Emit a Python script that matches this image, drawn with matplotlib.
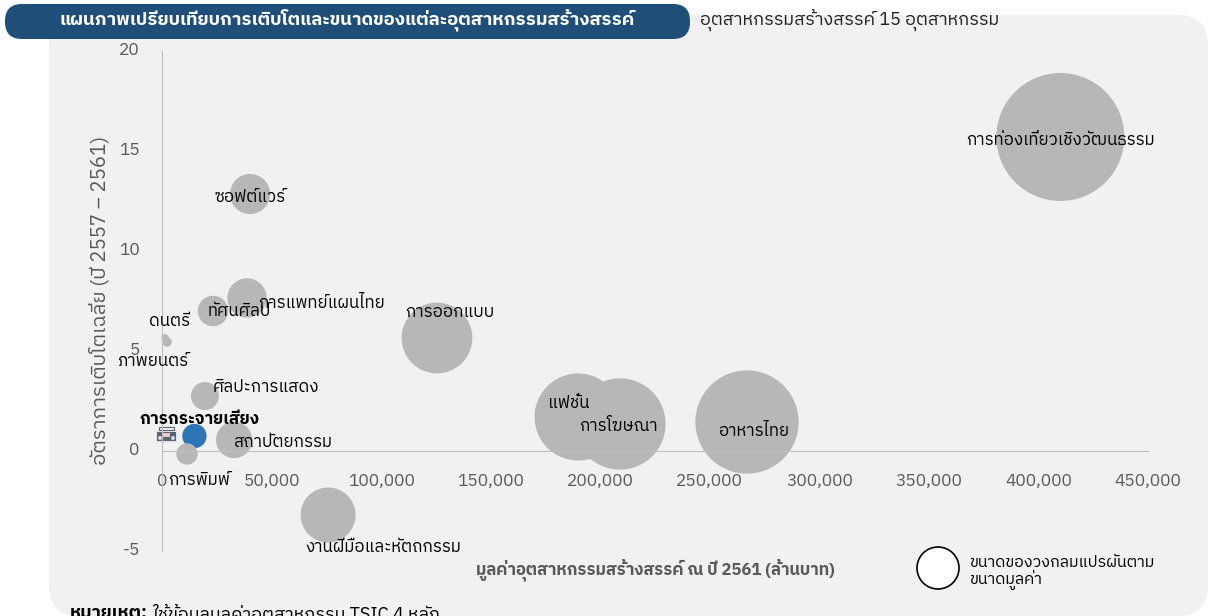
import matplotlib
matplotlib.use('Agg')
import matplotlib.pyplot as plt
from matplotlib.patches import FancyBboxPatch, Circle, Rectangle
from matplotlib.transforms import ScaledTranslation

# data
industries = ['การท่องเที่ยวเชิงวัฒนธรรม', 'ซอฟต์แวร์', 'การแพทย์แผนไทย', 'ทัศนศิลป์', 'ดนตรี',
              'ภาพยนตร์', 'ศิลปะการแสดง', 'การกระจายเสียง', 'สถาปัตยกรรม', 'การพิมพ์',
              'การออกแบบ', 'แฟชั่น', 'การโฆษณา', 'อาหารไทย', 'งานฝีมือและหัตถกรรม']
value_2561 = [410000, 40200, 38800, 23300, 1400, 2300, 19600, 14800, 32900, 11400,
              125500, 189900, 209000, 267000, 75800]
growth = [15.7, 12.85, 7.65, 7.0, 5.65, 5.45, 2.75, 0.75, 0.55, -0.15,
          5.65, 1.7, 1.35, 1.45, -3.2]
x_ticks = [0, 50000, 100000, 150000, 200000, 250000, 300000, 350000, 400000, 450000]
y_ticks = [-5, 0, 5, 10, 15, 20]

plt.rcParams['font.family'] = ['IBM Plex Sans Thai', 'DejaVu Sans']
plt.rcParams['axes.unicode_minus'] = False

W, H = 1208, 616
fig = plt.figure(figsize=(W / 100, H / 100), dpi=100)

# background layer in pixel coordinates
bg = fig.add_axes([0, 0, 1, 1], zorder=0)
bg.set_xlim(0, W)
bg.set_ylim(H, 0)
bg.axis('off')
bg.add_patch(FancyBboxPatch((79, 45), 1099, 541, boxstyle='round,pad=30,rounding_size=30',
                            fc='#F1F1F1', ec='none'))
bg.add_patch(FancyBboxPatch((22, 21), 651, 1, boxstyle='round,pad=17,rounding_size=17',
                            fc='#1F4E79', ec='none'))
bg.text(347, 20, 'แผนภาพเปรียบเทียบการเติบโตและขนาดของแต่ละอุตสาหกรรมสร้างสรรค์', color='white',
        fontsize=13.3, fontweight='bold', ha='center', va='center')
bg.text(700, 20, 'อุตสาหกรรมสร้างสรรค์ 15 อุตสาหกรรม', color='#222222', fontsize=13, va='center')
note_head = bg.text(70, 615, 'หมายเหตุ:', color='black', fontsize=13, fontweight='bold', va='center')
fig.canvas.draw()
note_end = note_head.get_window_extent().x1
bg.text(note_end + 4, 615, 'ใช้ข้อมูลมูลค่าอุตสาหกรรม TSIC 4 หลัก', color='black', fontsize=13, va='center')

# main chart
ax = fig.add_axes([162 / W, 1 - 551 / H, (1148 - 162) / W, 500 / H], zorder=1)
ax.patch.set_alpha(0)
ax.set_xlim(0, 450000)
ax.set_ylim(-5, 20)
for side in ['top', 'right']:
    ax.spines[side].set_visible(False)
ax.spines['left'].set_position(('data', 0))
ax.spines['bottom'].set_position(('data', 0))
ax.spines['left'].set_color('#BFBFBF')
ax.spines['bottom'].set_color('#BFBFBF')
ax.set_xticks(x_ticks)
ax.set_xticklabels([f'{v:,}' for v in x_ticks])
ax.set_yticks(y_ticks)
ax.tick_params(axis='x', length=0, pad=16, labelsize=12.5, labelcolor='#595959')
ax.tick_params(axis='y', length=0, pad=16, labelsize=12.5, labelcolor='#595959')
for lab in ax.get_yticklabels():
    lab.set_transform(lab.get_transform() + ScaledTranslation(0, 2 / 72, fig.dpi_scale_trans))

# bubble area follows the value
sizes = [v * 0.0207 for v in value_2561]
colors = ['#2E75B6' if n == 'การกระจายเสียง' else '#B7B7B7' for n in industries]
ax.scatter(value_2561, growth, s=sizes, c=colors, linewidths=0, zorder=2, clip_on=False)

# label offsets from bubble centre, in pixels
offsets = [(0, -3), (0, -3), (75, -5), (26, 0), (4, 17), (-14, -19), (61, 9), (5, 17),
           (49, -2), (12, -26), (13, 26), (-9, 14), (-1, -2), (7, -9), (55, -32)]
for name, vx, vy, (dx, dy) in zip(industries, value_2561, growth, offsets):
    bold = name == 'การกระจายเสียง'
    ax.annotate(name, (vx, vy), xytext=(dx * 0.72, dy * 0.72), textcoords='offset points',
                ha='center', va='center', fontsize=12.2, color='black', zorder=3,
                fontweight='bold' if bold else 'normal')

bg.text(99, 300, 'อัตราการเติบโตเฉลี่ย (ปี 2557 – 2561)', rotation=90, color='#595959',
        fontsize=14.7, ha='center', va='center')
bg.text(655, 570, 'มูลค่าอุตสาหกรรมสร้างสรรค์ ณ ปี 2561 (ล้านบาท)', color='#595959',
        fontsize=12, fontweight='bold', ha='center', va='center')

# size legend
bg.add_patch(Circle((938, 568), 21, fc='white', ec='black', lw=1.2))
bg.text(969, 562, 'ขนาดของวงกลมแปรผันตาม', fontsize=11.5, va='center', color='black')
bg.text(969, 581, 'ขนาดมูลค่า', fontsize=11.5, va='center', color='black')

# radio icon
bg.add_patch(Rectangle((156, 430), 21, 13, fc='#E3E5EC', ec='none'))
bg.add_patch(Rectangle((157, 432), 19, 9, fc='#5A6273', ec='none'))
bg.add_patch(Rectangle((159, 427), 15, 3, fc='none', ec='#5A6273', lw=0.8))
bg.add_patch(Circle((160, 438), 2, fc='#D5D8E0', ec='none'))
bg.add_patch(Circle((173, 438), 2, fc='#D5D8E0', ec='none'))
bg.add_patch(Rectangle((163, 433), 7, 4, fc='#E8C9C9', ec='none'))

fig.savefig('out.png', dpi=100)
